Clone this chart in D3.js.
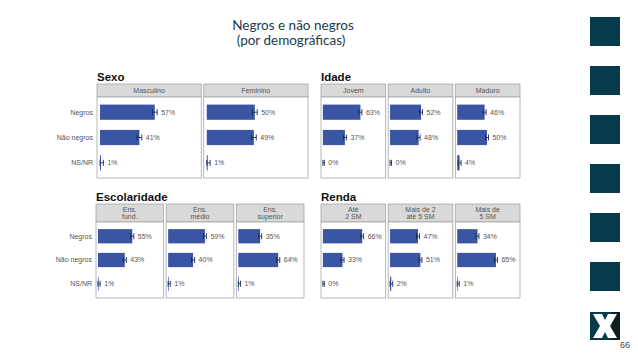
<!DOCTYPE html>
<html>
<head>
<meta charset="utf-8">
<script src="https://cdn.jsdelivr.net/npm/d3@7"></script>
<style>
  body { margin: 0; background: #fff; }
  text { font-family: "Liberation Sans", Arial, sans-serif; }
</style>
</head>
<body>
<svg id="chart" width="638" height="359"></svg>
<script>
// dados
const linhas = ["Negros", "Não negros", "NS/NR"];

const sexoCats = ["Masculino", "Feminino"];
const sexoVals = [[0.57, 0.41, 0.01], [0.50, 0.49, 0.01]];

const idadeCats = ["Jovem", "Adulto", "Maduro"];
const idadeVals = [[0.63, 0.37, 0.00], [0.52, 0.48, 0.00], [0.46, 0.50, 0.04]];

const escolCats = ["Ens.\nfund.", "Ens.\nmédio", "Ens.\nsuperior"];
const escolVals = [[0.55, 0.43, 0.01], [0.59, 0.40, 0.01], [0.35, 0.64, 0.01]];

const rendaCats = ["Até\n2 SM", "Mais de 2\naté 5 SM", "Mais de\n5 SM"];
const rendaVals = [[0.66, 0.33, 0.00], [0.47, 0.51, 0.02], [0.34, 0.65, 0.01]];

const margemErro = 0.025;

const barColor = "#3a55a3";
const errColor = "#1b2a55";
const txtColor = "#555";

var svg = d3.select("#chart");

// título (um só bloco de texto em duas linhas)
var titulo = svg.append("text")
    .attr("text-anchor", "middle")
    .style("font", "13.5px Lato")
    .style("fill", "#243a4b");
titulo.append("tspan").attr("x", 293).attr("y", 30).text("Negros e não negros");
titulo.append("tspan").attr("x", 291).attr("y", 45).text("(por demográficas)");

// quadrados laterais
var sq = [17, 66, 115, 164, 213, 262];
svg.selectAll(".sq").data(sq).enter().append("rect")
    .attr("class", "sq")
    .attr("x", 590).attr("y", d => d)
    .attr("width", 30).attr("height", 29)
    .style("fill", "#073b4c");

// logo X
var logo = svg.append("g").attr("transform", "translate(590,312)");
logo.append("rect").attr("width", 30).attr("height", 28).style("fill", "#073b4c");
logo.append("rect").attr("x", 22).attr("width", 8).attr("height", 28).style("fill", "#111c20");
logo.append("path")
    .attr("d", "M3,2 L12,2 L15,8 L18,2 L27,2 L20,14 L27,26 L18,26 L15,20 L12,26 L3,26 L10,14 Z")
    .style("fill", "#fff");
svg.append("text")
    .attr("x", 630).attr("y", 348)
    .attr("text-anchor", "end")
    .style("font-size", "9px")
    .style("fill", "#444")
    .text("66");

function drawGroup(cfg) {
    var g = svg.append("g");
    g.append("text")
        .attr("x", cfg.x0).attr("y", cfg.y0 - 3)
        .style("font-size", "11.5px")
        .style("font-weight", "bold")
        .style("fill", "#111")
        .text(cfg.title);

    var n = cfg.cats.length;
    var gap = 2.5;
    var pw = (cfg.x1 - cfg.x0 - gap * (n - 1)) / n;
    var ph = cfg.y1 - cfg.y0 - cfg.strip;

    var x = d3.scaleLinear().domain([-0.0315, 1.054]).range([0, pw]);
    var y = d3.scalePoint().domain(linhas).range([0, ph]).padding(0.6);
    var bh = y.step() * 0.6;

    if (cfg.rowLabels) {
        g.selectAll(".rowlab").data(linhas).enter().append("text")
            .attr("x", cfg.x0 - 4)
            .attr("y", d => cfg.y0 + cfg.strip + y(d))
            .attr("dy", "0.35em")
            .attr("text-anchor", "end")
            .style("font-size", "7px")
            .style("fill", txtColor)
            .text(d => d);
    }

    cfg.cats.forEach(function (cat, i) {
        var p = g.append("g")
            .attr("transform", `translate(${cfg.x0 + i * (pw + gap)}, ${cfg.y0})`);

        // strip
        p.append("rect")
            .attr("width", pw).attr("height", cfg.strip)
            .style("fill", "#d9d9d9")
            .style("stroke", "#a6a6a6").style("stroke-width", 0.8);
        var lines = cat.split("\n");
        lines.forEach(function (ln, k) {
            p.append("text")
                .attr("x", pw / 2)
                .attr("y", cfg.strip / 2 + (k - (lines.length - 1) / 2) * 7.5)
                .attr("dy", "0.35em")
                .attr("text-anchor", "middle")
                .style("font-size", "7px")
                .style("fill", txtColor)
                .text(ln);
        });

        var plot = p.append("g").attr("transform", `translate(0, ${cfg.strip})`);
        plot.append("rect")
            .attr("width", pw).attr("height", ph)
            .style("fill", "#fff")
            .style("stroke", "#a6a6a6").style("stroke-width", 0.8);

        var data = linhas.map((l, k) => ({ linha: l, v: cfg.vals[i][k] }));

        plot.selectAll(".bar").data(data).enter().append("rect")
            .attr("class", "bar")
            .attr("x", x(0))
            .attr("y", d => y(d.linha) - bh / 2)
            .attr("width", d => Math.max(0, x(d.v) - x(0)))
            .attr("height", bh)
            .style("fill", barColor);

        // barras de erro
        var eb = plot.selectAll(".err").data(data).enter().append("g")
            .attr("class", "err")
            .style("stroke", errColor).style("stroke-width", 0.9);
        eb.append("line")
            .attr("x1", d => x(Math.max(0, d.v - margemErro)))
            .attr("x2", d => x(d.v + margemErro))
            .attr("y1", d => y(d.linha)).attr("y2", d => y(d.linha));
        eb.append("line")
            .attr("x1", d => x(Math.max(0, d.v - margemErro)))
            .attr("x2", d => x(Math.max(0, d.v - margemErro)))
            .attr("y1", d => y(d.linha) - 3).attr("y2", d => y(d.linha) + 3);
        eb.append("line")
            .attr("x1", d => x(d.v + margemErro))
            .attr("x2", d => x(d.v + margemErro))
            .attr("y1", d => y(d.linha) - 3).attr("y2", d => y(d.linha) + 3);

        plot.selectAll(".lab").data(data).enter().append("text")
            .attr("x", d => x(d.v + margemErro) + 4)
            .attr("y", d => y(d.linha))
            .attr("dy", "0.35em")
            .style("font-size", "7px")
            .style("fill", txtColor)
            .text(d => d3.format(".0%")(d.v));
    });
}

drawGroup({ title: "Sexo", cats: sexoCats, vals: sexoVals, x0: 97, x1: 308, y0: 84, y1: 178, strip: 13, rowLabels: true });
drawGroup({ title: "Idade", cats: idadeCats, vals: idadeVals, x0: 321, x1: 520, y0: 84, y1: 178, strip: 13, rowLabels: false });
drawGroup({ title: "Escolaridade", cats: escolCats, vals: escolVals, x0: 96, x1: 304, y0: 204, y1: 298, strip: 18, rowLabels: true });
drawGroup({ title: "Renda", cats: rendaCats, vals: rendaVals, x0: 321, x1: 520, y0: 204, y1: 298, strip: 18, rowLabels: false });
</script>
</body>
</html>
